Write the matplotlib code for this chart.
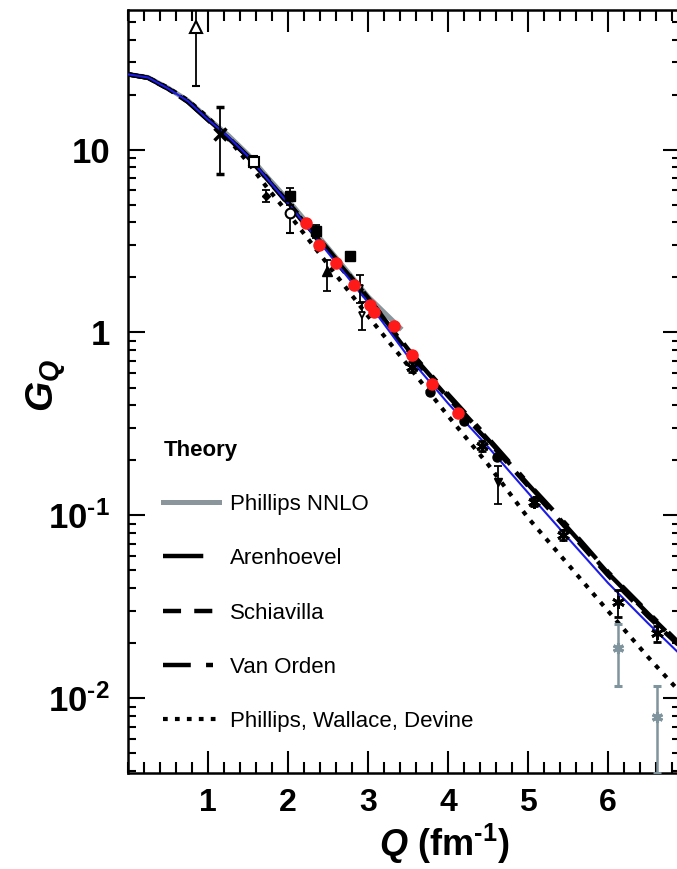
import matplotlib
matplotlib.use("Agg")
import matplotlib.pyplot as plt
from matplotlib.ticker import FixedLocator, MultipleLocator, LogLocator, NullFormatter

plt.rcParams["font.family"] = ["Liberation Sans", "DejaVu Sans"]
plt.rcParams["mathtext.fontset"] = "custom"
plt.rcParams["mathtext.rm"] = "Liberation Sans:bold"
plt.rcParams["mathtext.bf"] = "Liberation Sans:bold"
plt.rcParams["mathtext.it"] = "Liberation Sans:italic"
plt.rcParams["mathtext.bfit"] = "Liberation Sans:italic:bold"
plt.rcParams["lines.scale_dashes"] = False

# theory curves
Q_FIT = [0, 0.25, 0.5, 0.75, 1.0, 1.25, 1.5, 1.75, 2.0, 2.5, 3.0, 3.5, 4.0, 4.5, 5.0, 5.5, 6.0, 6.5, 6.9]
G_FIT = [25.8, 24.8, 21.6, 18.4, 14.6, 11.8, 9.2, 6.85, 5.1, 2.73, 1.46, 0.74, 0.41, 0.237, 0.133, 0.0751, 0.0427, 0.0257, 0.0174]

Q_NNLO = [0, 0.25, 0.5, 0.75, 1.0, 1.25, 1.5, 1.75, 2.0, 2.5, 3.0, 3.4]
G_NNLO = [25.8, 24.8, 21.7, 18.5, 14.8, 12.0, 9.4, 7.0, 5.3, 2.9, 1.57, 1.06]

Q_TH = [0, 0.25, 0.5, 0.75, 1.0, 1.25, 1.5, 1.75, 2.0, 2.5, 3.0, 3.5, 4.0, 4.5, 5.0, 5.5, 6.0, 6.5, 6.9]
G_AREN = [25.8, 24.7, 21.5, 18.2, 14.5, 11.6, 9.1, 6.8, 5.1, 2.8, 1.55, 0.80, 0.45, 0.26, 0.148, 0.085, 0.0483, 0.029, 0.0195]
G_SCHIA = [25.8, 24.7, 21.5, 18.3, 14.6, 11.7, 9.1, 6.8, 5.05, 2.75, 1.50, 0.78, 0.44, 0.255, 0.145, 0.083, 0.047, 0.028, 0.0192]
G_VANO = [25.8, 24.7, 21.6, 18.3, 14.6, 11.7, 9.2, 6.9, 5.15, 2.85, 1.55, 0.81, 0.46, 0.265, 0.150, 0.087, 0.049, 0.0295, 0.0198]
G_PWD = [25.8, 24.8, 21.8, 18.6, 15.0, 11.5, 8.5, 6.1, 4.5, 2.35, 1.23, 0.66, 0.35, 0.19, 0.097, 0.054, 0.030, 0.0168, 0.0108]

# data sets
Q_OTRI = [0.85]
G_OTRI = [47.0]
E_OTRI = [[24.8], [15.0]]

Q_CROSS = [1.15]
G_CROSS = [12.1]
E_CROSS = [[4.7], [4.9]]

Q_OSQ = [1.58]
G_OSQ = [8.6]
E_OSQ = [0.6]

Q_FSQ = [2.03, 2.35]
G_FSQ = [5.55, 3.57]
E_FSQ = [0.6, 0.3]

Q_OCIRC = [2.02]
G_OCIRC = [4.5]
E_OCIRC = [1.0]

Q_FTRI = [2.49]
G_FTRI = [2.16]
E_FTRI = [[0.48], [0.34]]

Q_SQ2 = [2.78]
G_SQ2 = [2.61]

Q_OPEN = [2.9, 2.92]
G_OPEN = [1.75, 1.25]
E_OPEN = [0.3, 0.22]

Q_SMALL = [1.73]
G_SMALL = [5.6]
E_SMALL = [0.45]

Q_RED = [2.22, 2.39, 2.6, 2.82, 3.02, 3.07, 3.32, 3.55, 3.8, 4.12]
G_RED = [3.97, 3.02, 2.40, 1.82, 1.42, 1.30, 1.08, 0.755, 0.521, 0.362]

Q_FCIRC = [3.77, 4.2, 4.61]
G_FCIRC = [0.475, 0.326, 0.209]

Q_DTRI = [4.62]
G_DTRI = [0.153]
E_DTRI = [[0.037], [0.032]]

Q_STAR = [3.55, 4.43, 5.07, 5.44, 6.12, 6.61]
G_STAR = [0.65, 0.24, 0.118, 0.078, 0.0334, 0.0226]
E_STAR = [0.04, 0.015, 0.006, 0.005, 0.0055, 0.0023]

Q_GSTAR = [6.12, 6.61]
G_GSTAR = [0.0188, 0.0079]
E_GSTAR = [[0.0071, 0.0040], [0.0067, 0.0038]]

YTICKS = [0.01, 0.1, 1, 10]
YLABELS = [r"$\mathbf{10^{\text{-}2}}$", r"$\mathbf{10^{\text{-}1}}$", "1", "10"]
XTICKS = [1, 2, 3, 4, 5, 6]

GRAY = "#8a969c"
STARGRAY = "#7f949c"

fig = plt.figure(figsize=(6.77, 8.69), dpi=100)
ax = fig.add_axes([128 / 677, 96 / 869, 552 / 677, 763 / 869])

ax.plot(Q_NNLO, G_NNLO, color=GRAY, lw=3.6, label="Phillips NNLO", zorder=2)
ax.plot(Q_TH, G_AREN, color="black", lw=3.2, dashes=(29, 12), label="Arenhoevel", zorder=3)
ax.plot(Q_TH, G_SCHIA, color="black", lw=3.2, dashes=(13, 9.5), label="Schiavilla", zorder=3)
ax.plot(Q_TH, G_VANO, color="black", lw=3.2, dashes=(20, 11, 5, 11), label="Van Orden", zorder=3)
ax.plot(Q_TH, G_PWD, color="black", lw=3.0, dashes=(3.4, 5.2), label="Phillips, Wallace, Devine", zorder=3)
ax.plot(Q_FIT, G_FIT, color="#1c1ce6", lw=1.5, zorder=4)

eb = dict(ecolor="black", elinewidth=1.3, capsize=3, capthick=1.3, ls="none", zorder=5)
ax.errorbar(Q_OTRI, G_OTRI, yerr=E_OTRI, marker="^", ms=8, mfc="white", mec="black", mew=1.5, **eb)
ax.errorbar(Q_CROSS, G_CROSS, yerr=E_CROSS, marker="x", ms=9, mec="black", mew=2.5, **eb)
ax.errorbar(Q_OSQ, G_OSQ, yerr=E_OSQ, marker="s", ms=7, mfc="white", mec="black", mew=1.5, **eb)
ax.errorbar(Q_FSQ, G_FSQ, yerr=E_FSQ, marker="s", ms=7, mfc="black", mec="black", **eb)
ax.errorbar(Q_OCIRC, G_OCIRC, yerr=E_OCIRC, marker="o", ms=7, mfc="white", mec="black", mew=1.5, **eb)
ax.errorbar(Q_FTRI, G_FTRI, yerr=E_FTRI, marker="^", ms=7, mfc="black", mec="black", **eb)
ax.errorbar(Q_SQ2, G_SQ2, marker="s", ms=7, mfc="black", mec="black", ls="none", zorder=5)
ax.errorbar(Q_OPEN, G_OPEN, yerr=E_OPEN, marker="v", ms=5, mfc="white", mec="black", mew=1.3, **eb)
ax.errorbar(Q_SMALL, G_SMALL, yerr=E_SMALL, marker="D", ms=4, mfc="black", mec="black", **eb)
ax.plot(Q_RED, G_RED, ls="none", marker="o", ms=8, mfc="#ff1a1a", mec="#ff1a1a", zorder=6)
ax.plot(Q_FCIRC, G_FCIRC, ls="none", marker="o", ms=6.5, mfc="black", mec="black", zorder=5)
ax.errorbar(Q_DTRI, G_DTRI, yerr=E_DTRI, marker="v", ms=6, mfc="black", mec="black", **eb)
ax.errorbar(Q_STAR, G_STAR, yerr=E_STAR, marker=(6, 2, 0), ms=9, mec="black", mew=2.0, **eb)
ax.errorbar(Q_GSTAR, G_GSTAR, yerr=E_GSTAR, marker=(6, 2, 0), ms=8, mec=STARGRAY,
            mew=2.2, ecolor=STARGRAY, elinewidth=1.8, capsize=3, capthick=1.5, ls="none", zorder=5)

ax.set_yscale("log")
ax.set_xlim(0, 6.9)
ax.set_ylim(0.0039, 58)

ax.xaxis.set_major_locator(FixedLocator(XTICKS))
ax.xaxis.set_minor_locator(MultipleLocator(0.2))
ax.set_xticklabels([str(t) for t in XTICKS])
ax.yaxis.set_major_locator(FixedLocator(YTICKS))
ax.yaxis.set_minor_locator(LogLocator(base=10, subs=range(2, 10)))
ax.yaxis.set_minor_formatter(NullFormatter())
ax.set_yticklabels(YLABELS)

ax.tick_params(which="both", direction="in", top=True, right=True, width=1.5)
ax.tick_params(axis="x", which="major", length=16, pad=11, labelsize=23)
ax.tick_params(axis="x", which="minor", length=8)
ax.tick_params(axis="y", which="major", length=12, pad=13, labelsize=25)
ax.tick_params(axis="y", which="minor", length=6)
for lab in ax.get_xticklabels() + ax.get_yticklabels():
    lab.set_fontweight("bold")
for sp in ax.spines.values():
    sp.set_linewidth(1.8)

ax.set_xlabel(r"$\mathbfit{Q}\ \mathbf{(fm^{\text{-}1})}$", fontsize=26)
ax.xaxis.set_label_coords(0.573, -0.064)
ax.xaxis.label.set_va("top")
ax.set_ylabel(r"$\mathbfit{G}_{\mathbfit{Q}}$", fontsize=28)
ax.yaxis.set_label_coords(-0.108, 0.508)

leg = ax.legend(loc="upper left", bbox_to_anchor=(0.064, 0.437), frameon=False,
                title="Theory", title_fontproperties={"weight": "bold", "size": 16},
                alignment="left", fontsize=16, handlelength=2.5, handletextpad=0.5,
                labelspacing=1.5, borderpad=0, borderaxespad=0)

fig.savefig("out.png", dpi=100)
